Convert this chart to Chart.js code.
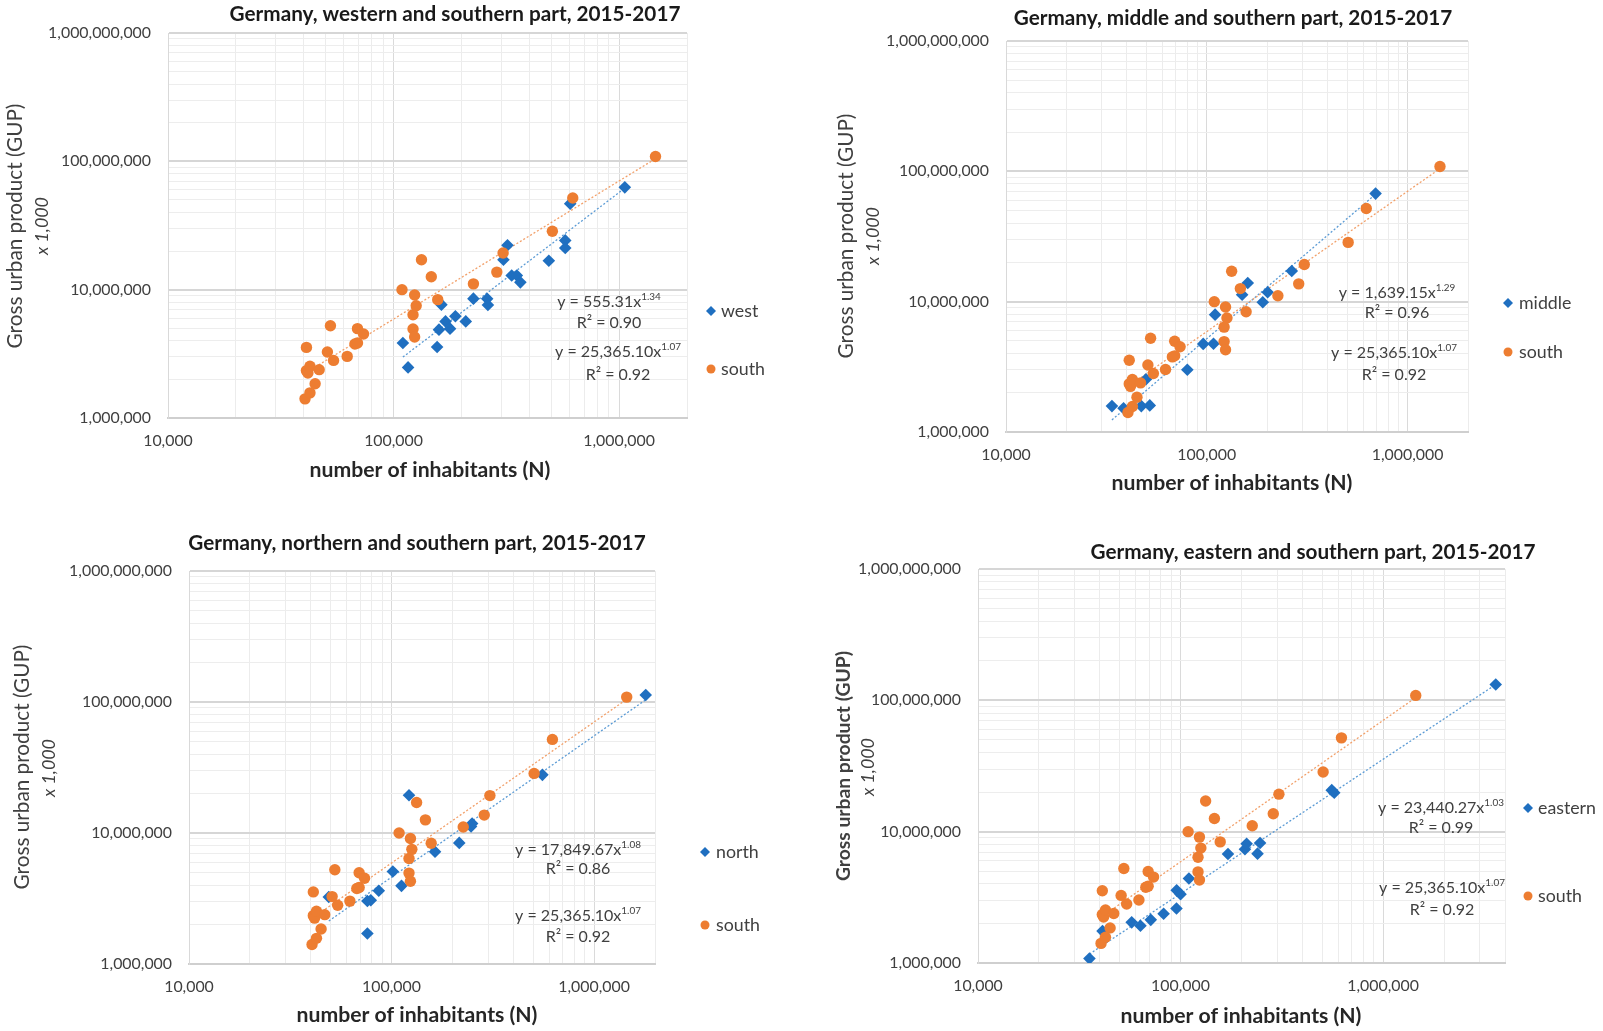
<!DOCTYPE html>
<html><head><meta charset="utf-8">
<script src="https://cdn.jsdelivr.net/npm/chart.js@4.4.1/dist/chart.umd.min.js"></script>
<style>
html,body{margin:0;padding:0;background:#fff;}
#wrap{position:relative;width:1603px;height:1031px;overflow:hidden;background:#fff;}
canvas{position:absolute;}
</style></head>
<body><div id="wrap">
<canvas id="c1"></canvas><canvas id="c2"></canvas><canvas id="c3"></canvas><canvas id="c4"></canvas>
</div>
<script>
// ---------- DATA (number of inhabitants, GUP x 1,000) ----------
const southData = [[40500,1.41e6],[42600,1.57e6],[44900,1.85e6],[41100,3.55e6],[41100,2.34e6],[41700,2.24e6],[42600,2.53e6],[46800,2.38e6],[50900,3.27e6],[52500,5.24e6],[54200,2.81e6],[62300,3.02e6],[67400,3.77e6],[69200,3.84e6],[69200,4.97e6],[73600,4.51e6],[109000,10.0e6],[124000,9.09e6],[126000,7.5e6],[122000,6.38e6],[122000,4.94e6],[124000,4.28e6],[133000,17.1e6],[147000,12.6e6],[157000,8.36e6],[226000,11.1e6],[287000,13.7e6],[306000,19.3e6],[506000,28.5e6],[623000,51.8e6],[1450000,109e6]];
const westData = [[110000,3.84e6],[116000,2.48e6],[156000,3.57e6],[159000,4.88e6],[163000,7.64e6],[170000,5.66e6],[178000,4.97e6],[188000,6.2e6],[209000,5.66e6],[226000,8.51e6],[260000,8.5e6],[262000,7.6e6],[307000,17.1e6],[320000,22.2e6],[334000,12.9e6],[352000,12.9e6],[365000,11.4e6],[488000,16.8e6],[577000,24.2e6],[577000,21.1e6],[607000,46.8e6],[1060000,62.7e6]];
const middleData = [[33700,1.58e6],[38500,1.52e6],[47200,1.58e6],[52000,1.6e6],[49800,2.54e6],[80000,3.0e6],[96000,4.74e6],[108000,4.75e6],[110000,7.95e6],[150000,11.3e6],[160000,13.9e6],[190000,9.9e6],[201000,11.8e6],[265000,17.2e6],[693000,67.5e6]];
const northData = [[49000,3.25e6],[76000,1.71e6],[76000,3.03e6],[79000,3.07e6],[86500,3.62e6],[101500,5.08e6],[112000,3.95e6],[122000,19.4e6],[164000,7.2e6],[216000,8.4e6],[247000,11.2e6],[250000,11.8e6],[556000,27.8e6],[1800000,113e6]];
const eastData = [[35500,1.08e6],[41200,1.75e6],[57400,2.04e6],[63400,1.92e6],[71300,2.13e6],[82500,2.37e6],[95500,2.6e6],[95700,3.58e6],[100000,3.34e6],[110000,4.4e6],[171500,6.76e6],[208000,7.35e6],[212000,8.1e6],[240000,6.8e6],[247000,8.2e6],[558000,20.7e6],[574000,19.8e6],[3600000,132e6]];

const xTickValues = [10000, 100000, 1000000];
const xTickLabels = ['10,000', '100,000', '1,000,000'];
const yTickValues = [1e6, 1e7, 1e8, 1e9];
const yTickLabels = ['1,000,000', '10,000,000', '100,000,000', '1,000,000,000'];

const panelTitles = ['Germany, western and southern part, 2015-2017','Germany, middle and southern part, 2015-2017','Germany, northern and southern part, 2015-2017','Germany, eastern and southern part, 2015-2017'];
const regionNames = ['west','middle','north','eastern'];
const regionEquations = [['y = 555.31x','1.34','R² = 0.90'],['y = 1,639.15x','1.29','R² = 0.96'],['y = 17,849.67x','1.08','R² = 0.86'],['y = 23,440.27x','1.03','R² = 0.99']];
const southName = 'south';
const southEquation = ['y = 25,365.10x','1.07','R² = 0.92'];
const yTitleText = 'Gross urban product (GUP)';
const yUnitText = 'x 1,000';
const xTitleText = 'number of inhabitants (N)';

// ---------- STYLE / LAYOUT ----------
const BLUE = '#1F6FC0', ORANGE = '#ED7D31';
const BLUE_T = '#5B9BD5', ORANGE_T = '#F2A06A';
const FAM = "Lato, 'Liberation Sans', sans-serif";

const layouts = [
  {id:'c1', canvas:[0,0,800,505], plot:[168,33,687,418], xMax:2e6, data:westData,
   title:[455,14], yTitle:[15,226], yBold:false, yUnit:[42,226], xTitle:[430,470],
   eqR:[609,302,323], eqS:[618,352,375], legR:[711,311], legS:[711,369], legTx:721},
  {id:'c2', canvas:[800,0,803,505], plot:[1006,41,1468,432], xMax:2e6, data:middleData,
   title:[1233,18], yTitle:[846,236], yBold:false, yUnit:[873,236], xTitle:[1232,483],
   eqR:[1397,293,313], eqS:[1394,353,375], legR:[1508,303], legS:[1508,352], legTx:1519},
  {id:'c3', canvas:[0,505,800,526], plot:[189,571,655,964], xMax:2e6, data:northData,
   title:[417,543], yTitle:[22,767], yBold:false, yUnit:[49,768], xTitle:[417,1015],
   eqR:[578,850,869], eqS:[578,916,937], legR:[705,852], legS:[705,925], legTx:716},
  {id:'c4', canvas:[800,505,803,526], plot:[978,569,1505,963], xMax:4e6, data:eastData,
   title:[1313,552], yTitle:[844,766], yBold:true, yUnit:[868,767], xTitle:[1241,1016],
   eqR:[1441,808,828], eqS:[1442,888,910], legR:[1528,808], legS:[1528,896], legTx:1538}
];

// font sizing by measured widths of the reference text
const mctx = document.createElement('canvas').getContext('2d');
function measure(text, weight, style, size){ mctx.font = `${style} ${weight} ${size}px ${FAM}`; return mctx.measureText(text).width; }
function fit(text, weight, style, target){ return 100*target/measure(text, weight, style, 100); }
const SZ = {
  title: fit(panelTitles[0], 'bold', 'normal', 451),
  yTitle: fit(yTitleText, 'normal', 'normal', 245),
  yUnit: fit(yUnitText, 'normal', 'italic', 58),
  xTitle: fit(xTitleText, 'bold', 'normal', 241),
  tick: fit('1,000,000,000', 'normal', 'normal', 103),
  legend: fit('south', 'normal', 'normal', 44),
  eq: 100*126/(measure(southEquation[0],'normal','normal',100)+measure(southEquation[1],'normal','normal',62))
};

function isPow10(v){ const l = Math.log10(v); return Math.abs(l - Math.round(l)) < 1e-9; }
function logTicks(min, max){
  const t = [];
  for (let e = Math.floor(Math.log10(min)); e <= Math.ceil(Math.log10(max)); e++)
    for (let m = 1; m <= 9; m++) { const v = m*Math.pow(10,e); if (v >= min*0.999 && v <= max*1.001) t.push({value:v}); }
  return t;
}
function powerFit(data){
  let n=data.length, sx=0, sy=0, sxx=0, sxy=0;
  for (const [x,y] of data){ const lx=Math.log(x), ly=Math.log(y); sx+=lx; sy+=ly; sxx+=lx*lx; sxy+=lx*ly; }
  const b=(n*sxy-sx*sy)/(n*sxx-sx*sx); const a=Math.exp((sy-b*sx)/n);
  return {a,b};
}
function trendPoints(data){
  const f = powerFit(data);
  const xs = data.map(d=>d[0]);
  const lo = Math.min(...xs), hi = Math.max(...xs);
  return [{x:lo, y:f.a*Math.pow(lo,f.b)}, {x:hi, y:f.a*Math.pow(hi,f.b)}];
}

function drawEq(ctx, eq, cx, y1, y2){
  const s = SZ.eq, ss = s*0.62;
  ctx.fillStyle = '#404040'; ctx.textBaseline = 'middle';
  const w1 = measure(eq[0],'normal','normal',s), w2 = measure(eq[1],'normal','normal',ss);
  const x0 = cx - (w1+w2)/2;
  ctx.textAlign = 'left';
  ctx.font = `normal normal ${s}px ${FAM}`; ctx.fillText(eq[0], x0, y1);
  ctx.font = `normal normal ${ss}px ${FAM}`; ctx.fillText(eq[1], x0 + w1, y1 - s*0.33);
  ctx.textAlign = 'center';
  ctx.font = `normal normal ${s}px ${FAM}`; ctx.fillText(eq[2], cx, y2);
}

const textPlugin = {
  id: 'panelTexts',
  afterDraw(chart){
    const L = chart.options.plugins.panelTexts.layout, idx = chart.options.plugins.panelTexts.idx;
    const ox = L.canvas[0], oy = L.canvas[1];
    const ctx = chart.ctx;
    ctx.save();
    ctx.translate(-ox, -oy);
    // title
    ctx.fillStyle = '#1a1a1a'; ctx.textAlign = 'center'; ctx.textBaseline = 'middle';
    ctx.font = `normal bold ${SZ.title}px ${FAM}`;
    ctx.fillText(panelTitles[idx], L.title[0], L.title[1]);
    // x title
    ctx.font = `normal bold ${SZ.xTitle}px ${FAM}`;
    ctx.fillStyle = '#262626';
    ctx.fillText(xTitleText, L.xTitle[0], L.xTitle[1]);
    // y titles (rotated)
    ctx.save(); ctx.translate(L.yTitle[0], L.yTitle[1]); ctx.rotate(-Math.PI/2);
    ctx.fillStyle = '#404040';
    ctx.font = `normal ${L.yBold?'bold':'normal'} ${SZ.yTitle*(L.yBold?0.93:1)}px ${FAM}`;
    ctx.fillText(yTitleText, 0, 0); ctx.restore();
    ctx.save(); ctx.translate(L.yUnit[0], L.yUnit[1]); ctx.rotate(-Math.PI/2);
    ctx.fillStyle = '#404040';
    ctx.font = `italic normal ${SZ.yUnit}px ${FAM}`;
    ctx.fillText(yUnitText, 0, 0); ctx.restore();
    // equations
    drawEq(ctx, regionEquations[idx], L.eqR[0], L.eqR[1], L.eqR[2]);
    drawEq(ctx, southEquation, L.eqS[0], L.eqS[1], L.eqS[2]);
    // legend
    ctx.fillStyle = BLUE;
    const [dx, dy] = L.legR; const r = 5;
    ctx.beginPath(); ctx.moveTo(dx, dy-r); ctx.lineTo(dx+r, dy); ctx.lineTo(dx, dy+r); ctx.lineTo(dx-r, dy); ctx.closePath(); ctx.fill();
    ctx.fillStyle = ORANGE;
    ctx.beginPath(); ctx.arc(L.legS[0], L.legS[1], 4.5, 0, Math.PI*2); ctx.fill();
    ctx.fillStyle = '#404040'; ctx.textAlign = 'left'; ctx.textBaseline = 'middle';
    ctx.font = `normal normal ${SZ.legend}px ${FAM}`;
    ctx.fillText(regionNames[idx], L.legTx, L.legR[1]);
    ctx.fillText(southName, L.legTx, L.legS[1]);
    ctx.restore();
  }
};

layouts.forEach((L, idx) => {
  const cv = document.getElementById(L.id);
  const [cx, cy, cw, ch] = L.canvas;
  cv.style.left = cx + 'px'; cv.style.top = cy + 'px';
  cv.width = cw; cv.height = ch; cv.style.width = cw + 'px'; cv.style.height = ch + 'px';
  const [pl, pt, pr, pb] = L.plot;
  const padLeft = 5, xH = 40;
  const yW = pl - cx - padLeft;
  const padding = {left: padLeft, top: pt - cy, right: (cx+cw) - pr, bottom: (cy+ch) - pb - xH};

  new Chart(cv, {
    type: 'scatter',
    data: { datasets: [
      { label: southName, data: southData.map(([x,y])=>({x,y})), pointStyle:'circle', pointRadius:5.7, pointHoverRadius:5.7,
        backgroundColor: ORANGE, borderColor: ORANGE, borderWidth: 0, order: 0 },
      { label: regionNames[idx], data: L.data.map(([x,y])=>({x,y})), pointStyle:'rectRot', pointRadius:6.3, pointHoverRadius:6.3,
        backgroundColor: BLUE, borderColor: BLUE, borderWidth: 0, order: 1 },
      { type:'line', label:'trend south', data: trendPoints(southData), showLine:true, borderColor: ORANGE_T, borderWidth:1.3,
        borderDash:[2,2], pointRadius:0, fill:false, tension:0, order: 5 },
      { type:'line', label:'trend ' + regionNames[idx], data: trendPoints(L.data), showLine:true, borderColor: BLUE_T, borderWidth:1.3,
        borderDash:[2,2], pointRadius:0, fill:false, tension:0, order: 6 }
    ]},
    options: {
      responsive: false, animation: false, devicePixelRatio: 1,
      layout: { padding, autoPadding: false },
      plugins: { legend: {display:false}, tooltip: {enabled:false}, title: {display:false},
                 panelTexts: { layout: L, idx } },
      scales: {
        x: { type:'logarithmic', position:'bottom', min:10000, max:L.xMax,
             afterBuildTicks: s => { s.ticks = logTicks(s.min, s.max); },
             afterFit: s => { s.height = xH; },
             ticks: { autoSkip:false, maxRotation:0, minRotation:0, padding:13, color:'#404040',
                      font:{family:FAM, size:SZ.tick},
                      callback: v => { const i = xTickValues.findIndex(t => Math.abs(t-v) < 1e-6*t); return i >= 0 ? xTickLabels[i] : ''; } },
             grid: { drawTicks:false, color: c => (c.tick && isPow10(c.tick.value)) ? '#dadada' : '#ececec', lineWidth: 1 },
             border: { display:true, color:'#cfcfcf', width:2 } },
        y: { type:'logarithmic', position:'left', min:1e6, max:1e9,
             afterBuildTicks: s => { s.ticks = logTicks(s.min, s.max); },
             afterFit: s => { s.width = yW; },
             ticks: { autoSkip:false, padding:17, color:'#404040', font:{family:FAM, size:SZ.tick},
                      callback: v => { const i = yTickValues.findIndex(t => Math.abs(t-v) < 1e-6*t); return i >= 0 ? yTickLabels[i] : ''; } },
             grid: { drawTicks:false, color: c => (c.tick && isPow10(c.tick.value)) ? '#d6d6d6' : '#ededed',
                     lineWidth: c => (c.tick && isPow10(c.tick.value)) ? 2 : 1 },
             border: { display:true, color:'#d9d9d9', width:1 } }
      }
    },
    plugins: [textPlugin]
  });
});
</script>
</body></html>
